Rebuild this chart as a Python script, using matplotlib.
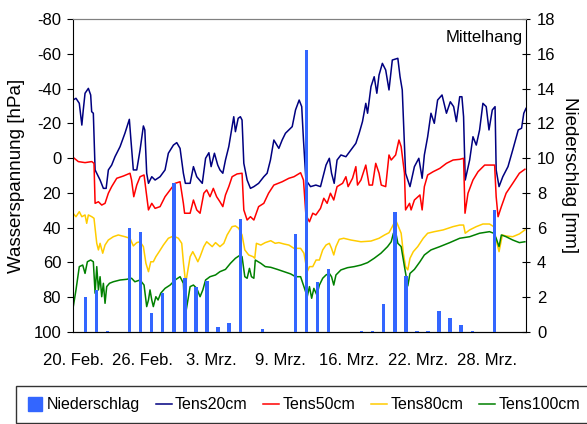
import numpy as np
import matplotlib.pyplot as plt
from matplotlib.lines import Line2D

plt.rcParams['font.family'] = ['Liberation Sans', 'DejaVu Sans']
plt.rcParams['axes.unicode_minus'] = False

# x axis: days since 20. Feb. (leap year), labels every 6.25 days
tick_labels = ["20. Feb.", "26. Feb.", "3. Mrz.", "9. Mrz.", "16. Mrz.", "22. Mrz.", "28. Mrz."]

# daily rain [mm]
rain_day = [1, 2, 3, 5, 6, 7, 8, 9, 10, 11, 12, 13, 14, 15, 17, 20, 21, 22, 23,
            26, 27, 28, 29, 30, 31, 32, 33, 34, 35, 36, 38]
rain_mm = [2.0, 2.4, 0.05, 6.0, 5.75, 1.1, 2.25, 8.55, 3.1, 2.6, 2.95, 0.3, 0.5, 6.5, 0.2, 5.65, 16.2, 2.9, 3.6,
           0.07, 0.07, 1.6, 6.9, 3.2, 0.07, 0.07, 1.2, 0.8, 0.4, 0.07, 7.0]

# tensiometer 20 cm [hPa]
t20_day = [0, 0.27, 0.57, 0.8, 0.93, 1.09, 1.39, 1.6, 1.69, 1.84, 2.0, 2.45, 2.75, 3.0, 3.2, 3.5, 3.8, 4.26,
           4.7, 5.1, 5.22, 5.46, 5.77, 6.07, 6.37, 6.5, 6.67, 6.83, 7.13, 7.43, 7.88, 8.33, 8.63, 9.09, 9.39,
           9.69, 9.99, 10.17, 10.6, 10.9, 11.2, 11.7, 12.0, 12.3, 12.5, 12.8, 13.1, 13.3, 13.56, 13.8, 14.1,
           14.25, 14.55, 14.7, 14.95, 15.15, 15.3, 15.46, 15.76, 16.06, 16.37, 16.8, 17.27, 17.57, 17.87,
           18.18, 18.63, 18.93, 19.23, 19.54, 19.84, 20.14, 20.47, 20.7, 20.86, 21.08, 21.5, 21.98, 22.4,
           22.9, 23.2, 23.4, 23.64, 23.9, 24.25, 24.7, 25.15, 25.6, 25.9, 26.2, 26.5, 26.66, 26.97, 27.26,
           27.5, 27.7, 28.0, 28.3, 28.6, 28.9, 29.4, 29.6, 29.8, 30.1, 30.5, 30.9, 31.3, 31.6, 31.8, 32.1,
           32.4, 32.7, 33.0, 33.4, 33.8, 34.15, 34.45, 34.7, 35.0, 35.2, 35.35, 35.5, 35.9, 36.2, 36.5, 36.8,
           37.1, 37.4, 37.65, 37.95, 38.2, 38.3, 38.56, 38.9, 39.37, 39.8, 40.3, 40.6, 40.8, 41.0]
t20_hpa = [-33.4, -34.4, -31.5, -19, -27.7, -37.3, -40.1, -36.3, -26.7, -25.8, 6.8, 12.6, 17.4, 17.4, 6.8, 4.0,
           -0.8, -6.6, -14.3, -22.3, -12.3, 6.8, 6.8, -4.7, -18.5, -16.2, 8.7, 14.5, 10.7, 12.6, 10.7, 6.8,
           -2.8, -7.5, -8.9, -5.6, 8.7, 14.5, 14.5, 4.9, 10.7, 14.5, 0.1, -3.1, 4.9, -2.8, 4.0, 6.8, 8.7, 1.1,
           -6.6, -12.3, -23.8, -15.2, -22.9, -23.8, -21.9, 3.0, 12.6, 17.4, 16.4, 14.5, 10.7, 8.7, 1.1,
           -10.4, -5.6, -10.4, -14.3, -16.2, -18.1, -27.7, -33.4, -29.6, -10.4, 12.6, 16.4, 15.5, 16.4,
           4.0, 0.1, 8.7, 14.5, 1.1, -1.8, -0.8, -4.7, -8.5, -14.3, -21.0, -31.5, -25.8, -41.1, -46.8,
           -37.3, -47.8, -54.5, -50.7, -39.2, -56.4, -57.4, -46.8, -39.2, 8.7, 16.4, 4.9, 0.1, 11.6, -1.8,
           -12.3, -25.8, -20.0, -33.4, -36.3, -25.8, -32.4, -29.6, -21.0, -35.3, -35.3, -23.8, 12.6, 1.1,
           -12.3, -7.5, -16.2, -31.5, -29.6, -16.2, -27.7, -29.6, 6.8, 16.4, 10.7, 4.9, -4.7, -16.2, -17.2,
           -25.8, -28.6]

# tensiometer 50 cm [hPa]
t50_day = [0, 0.48, 1.09, 1.7, 1.9, 2.0, 2.3, 2.6, 2.9, 3.2, 3.5, 3.96, 4.56, 5.16, 5.3, 5.5, 5.77, 6.07,
           6.43, 6.6, 6.83, 7.13, 7.43, 7.88, 8.33, 8.79, 9.24, 9.69, 9.99, 10.1, 10.3, 10.6, 10.9, 11.2,
           11.5, 11.84, 12.1, 12.4, 12.7, 13.0, 13.3, 13.56, 13.8, 14.1, 14.4, 14.85, 15.3, 15.46, 15.76,
           16.06, 16.37, 16.8, 17.27, 17.7, 18.18, 18.93, 19.54, 20.0, 20.6, 20.86, 21.08, 21.4, 21.7,
           21.98, 22.4, 22.7, 23.0, 23.3, 23.6, 23.9, 24.4, 24.7, 24.9, 25.3, 25.6, 25.75, 26.06, 26.5,
           26.8, 27.1, 27.4, 27.7, 27.9, 28.3, 28.6, 28.8, 29.2, 29.5, 29.7, 30.0, 30.1, 30.46, 30.6, 30.9,
           31.4, 31.6, 31.8, 32.1, 32.6, 33.2, 33.8, 34.4, 35.0, 35.35, 35.48, 35.75, 36.2, 36.66, 37.26,
           37.7, 38.16, 38.3, 38.47, 38.77, 39.2, 39.8, 40.4, 40.9]
t50_hpa = [-0.5, 2.0, 2.6, 2.0, 3.0, 26.0, 25.1, 27.0, 26.0, 20.2, 16.4, 11.6, 10.3, 8.7, 12.6, 22.2, 15.5,
           10.7, 9.7, 18.3, 29.8, 26.0, 28.9, 27.9, 22.2, 18.3, 14.5, 13.6, 26.0, 31.7, 31.7, 31.7, 24.1,
           29.8, 31.7, 20.2, 18.3, 22.2, 17.4, 22.2, 25.1, 27.9, 21.2, 16.4, 10.7, 9.1, 8.7, 29.8, 35.6,
           33.7, 35.6, 27.9, 26.0, 20.2, 15.5, 13.6, 11.6, 10.7, 8.4, 12.6, 32.7, 36.6, 31.7, 32.7, 28.9,
           23.1, 26.0, 20.2, 24.1, 16.4, 14.5, 10.7, 16.4, 11.6, 4.9, 15.5, 12.6, 4.0, 15.5, 15.5, 3.0,
           8.7, 15.5, 16.4, -1.8, 1.1, -1.8, -10.4, -6.6, 8.7, 29.8, 26.0, 29.8, 24.1, 21.2, 29.8, 16.4,
           9.7, 7.8, 5.9, 3.0, 1.1, 0.7, 0.1, 31.7, 20.2, 12.6, 7.8, 4.0, 4.0, 4.0, 22.2, 33.7, 27.9, 20.2,
           14.5, 8.7, 6.4]

# tensiometer 80 cm [hPa]
t80_day = [0, 0.27, 0.57, 0.8, 1.09, 1.24, 1.39, 1.7, 1.9, 2.15, 2.3, 2.45, 2.69, 2.9, 3.2, 3.65, 4.1, 4.7,
           5.16, 5.46, 5.77, 6.07, 6.37, 6.6, 6.83, 7.04, 7.27, 7.5, 7.8, 8.18, 8.63, 9.09, 9.54, 9.84, 10.0,
           10.2, 10.4, 10.6, 10.84, 11.08, 11.3, 11.5, 11.84, 12.1, 12.6, 12.9, 13.3, 13.65, 13.95, 14.4,
           14.7, 15.0, 15.3, 15.55, 15.9, 16.3, 16.45, 16.6, 17.0, 17.4, 17.9, 18.3, 18.63, 19.1, 19.54,
           20.0, 20.6, 20.9, 21.2, 21.4, 21.7, 22.0, 22.3, 22.6, 22.9, 23.2, 23.4, 23.6, 23.8, 24.1, 24.5,
           25.15, 26.06, 26.97, 27.7, 28.2, 28.6, 28.9, 29.2, 29.4, 29.7, 29.9, 30.1, 30.3, 30.5, 30.8,
           31.2, 31.7, 32.1, 32.7, 33.5, 34.4, 35.0, 35.35, 35.5, 35.9, 36.5, 37.1, 37.7, 38.07, 38.3,
           38.56, 38.86, 39.2, 39.8, 40.4, 40.9]
t80_hpa = [31.7, 33.7, 30.8, 33.7, 32.7, 37.5, 32.7, 33.7, 34.6, 49.0, 52.8, 49.0, 54.7, 50.0, 47.1, 45.2,
           44.2, 45.2, 46.1, 50.5, 48.6, 48.1, 50.9, 60.5, 65.3, 59.6, 59.6, 56.7, 53.8, 50.0, 46.1, 44.8,
           46.1, 49.0, 60.5, 72.0, 64.3, 56.7, 53.8, 56.7, 59.6, 56.7, 50.9, 48.1, 50.9, 48.6, 50.9, 49.0,
           44.2, 39.4, 39.0, 40.4, 44.2, 52.8, 55.7, 56.7, 57.6, 49.0, 50.0, 48.6, 47.5, 49.0, 48.6, 49.4,
           50.0, 51.9, 51.9, 54.7, 65.3, 62.4, 62.4, 58.6, 58.6, 52.8, 50.0, 49.0, 51.9, 55.7, 50.9, 46.7,
           46.1, 47.1, 48.1, 47.7, 46.1, 44.2, 42.9, 39.4, 35.6, 38.5, 43.2, 54.7, 62.4, 64.3, 57.6, 53.8,
           50.9, 46.1, 43.2, 42.3, 41.3, 39.4, 38.5, 38.5, 43.2, 41.3, 39.4, 37.9, 37.9, 39.4, 47.1, 53.8,
           44.2, 44.8, 45.2, 43.6, 41.3]

# tensiometer 100 cm [hPa]
t100_day = [0, 0.27, 0.57, 0.88, 1.09, 1.3, 1.6, 1.84, 2.0, 2.15, 2.3, 2.45, 2.6, 2.75, 2.9, 3.05, 3.3,
            3.65, 4.26, 4.86, 5.3, 5.6, 6.07, 6.43, 6.67, 6.83, 6.97, 7.13, 7.27, 7.5, 7.7, 7.94, 8.33,
            8.79, 9.24, 9.69, 9.99, 10.05, 10.2, 10.4, 10.6, 10.9, 11.2, 11.5, 11.75, 12.0, 12.4, 12.9,
            13.3, 13.8, 14.25, 14.7, 15.15, 15.3, 15.55, 15.76, 15.97, 16.15, 16.37, 16.5, 17.0, 17.4,
            17.9, 18.5, 19.1, 19.7, 20.14, 20.6, 20.9, 21.2, 21.4, 21.6, 21.8, 22.07, 22.3, 22.6, 22.9,
            23.2, 23.4, 23.6, 23.8, 24.25, 24.85, 25.45, 26.06, 26.66, 27.26, 27.87, 28.47, 28.8, 29.0,
            29.2, 29.4, 29.7, 30.0, 30.3, 30.5, 30.9, 31.4, 31.8, 32.4, 33.2, 34.1, 35.0, 35.9, 36.8, 37.7,
            38.07, 38.3, 38.56, 38.77, 39.2, 39.8, 40.4, 40.9]
t100_hpa = [86.4, 75.8, 62.4, 61.5, 66.3, 59.6, 58.6, 59.6, 77.7, 62.4, 75.8, 68.2, 79.7, 72.0, 83.5, 73.9,
            72.0, 71.1, 70.1, 69.7, 69.1, 71.1, 70.1, 73.0, 85.4, 81.6, 75.8, 81.6, 85.4, 79.7, 81.6, 77.7,
            74.9, 73.0, 70.1, 68.2, 72.0, 79.7, 89.2, 81.6, 73.9, 73.0, 74.9, 79.7, 75.8, 70.1, 68.2, 67.2,
            65.3, 64.0, 60.5, 57.6, 55.7, 56.7, 68.2, 69.1, 63.4, 68.2, 69.1, 58.6, 60.5, 62.4, 62.8, 64.0,
            65.3, 66.6, 68.2, 68.2, 73.9, 79.7, 73.9, 80.6, 74.9, 78.7, 73.0, 69.1, 67.2, 66.3, 68.2, 73.0,
            67.2, 64.3, 63.0, 62.4, 61.5, 60.1, 57.6, 54.7, 50.9, 48.1, 43.2, 42.3, 49.0, 50.9, 62.4, 73.5,
            66.3, 64.0, 59.6, 55.7, 52.8, 50.9, 48.6, 46.1, 45.2, 43.2, 42.3, 43.2, 46.1, 50.9, 44.2, 45.2,
            47.1, 48.6, 48.1]

fig = plt.figure(figsize=(5.87, 4.24), dpi=100)
ax = fig.add_axes([73 / 587, 92 / 424, 453 / 587, 313 / 424])

ax.plot(t20_day, t20_hpa, color='#000080', lw=1.1)
ax.plot(t50_day, t50_hpa, color='#ff0000', lw=1.1)
ax.plot(t80_day, t80_hpa, color='#ffcc00', lw=1.1)
ax.plot(t100_day, t100_hpa, color='#008000', lw=1.1)

ax.set_xlim(0, 41)
ax.set_ylim(100, -80)
ax.set_yticks(np.arange(-80, 101, 20))
ax.set_xticks(np.arange(len(tick_labels)) * 6.25)
ax.set_xticklabels(tick_labels)
ax.tick_params(axis='x', length=0, pad=15, labelsize=12)
ax.tick_params(axis='y', length=4.5, width=0.8, pad=4, labelsize=12)
ax.set_ylabel('Wasserspannung [hPa]', fontsize=13.5, labelpad=6)
ax.spines['top'].set_color('#808080')
ax.spines['right'].set_visible(False)

# rain on second axis (drawn above the lines)
ax2 = ax.twinx()
ax2.bar(np.array(rain_day) + 0.13, rain_mm, width=0.3, color='#3366ff', zorder=3)
ax2.set_ylim(0, 18)
ax2.set_yticks(np.arange(0, 19, 2))
ax2.tick_params(axis='y', direction='inout', length=6, width=0.8, pad=5, labelsize=12)
ax2.set_ylabel('Niederschlag [mm]', fontsize=13.5, rotation=-90, labelpad=16)
ax2.spines['top'].set_color('#808080')
ax2.spines['left'].set_visible(False)

ax.text(0.993, 0.965, 'Mittelhang', transform=ax.transAxes, ha='right', va='top', fontsize=12)

handles = [Line2D([], [], marker='s', color='#3366ff', linestyle='none', markersize=10),
           Line2D([], [], color='#000080', lw=1.1),
           Line2D([], [], color='#ff0000', lw=1.1),
           Line2D([], [], color='#ffcc00', lw=1.1),
           Line2D([], [], color='#008000', lw=1.1)]
labels = ['Niederschlag', 'Tens20cm', 'Tens50cm', 'Tens80cm', 'Tens100cm']
leg = fig.legend(handles, labels, loc='upper left', bbox_to_anchor=(16 / 587, 1 - 386 / 424), ncol=5,
                 frameon=True, fancybox=False, edgecolor='black', borderaxespad=0, fontsize=11.5,
                 handlelength=1.0, handletextpad=0.2, columnspacing=1.0, borderpad=0.7)
leg.get_frame().set_linewidth(1.0)

fig.savefig('out.png', dpi=100)
